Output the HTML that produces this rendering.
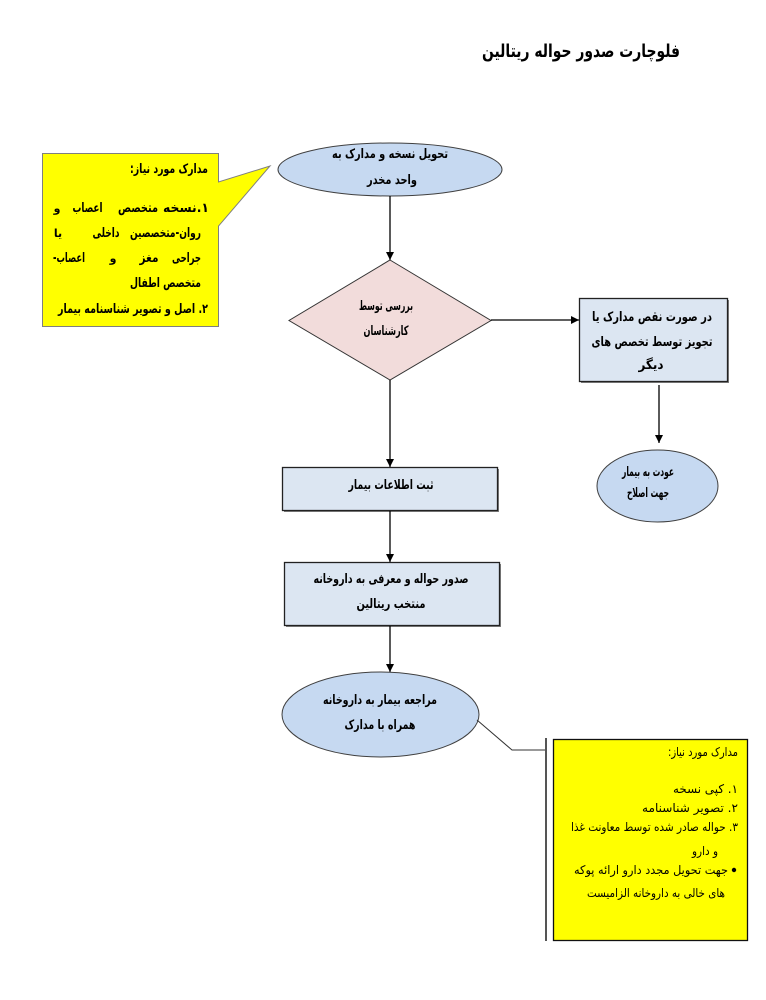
<!DOCTYPE html>
<html>
<head>
<meta charset="utf-8">
<style>
html,body{margin:0;padding:0;background:#fff;}
svg{display:block;}
text{font-family:"DejaVu Sans","Liberation Sans",sans-serif;fill:#000;}
.b{font-weight:bold;font-size:13px;}
.s{font-weight:bold;font-size:11px;}
.r{font-size:12px;}
</style>
</head>
<body>
<svg width="766" height="1000" viewBox="0 0 766 1000" xmlns="http://www.w3.org/2000/svg">
<defs>
<marker id="ah" markerWidth="8" markerHeight="8" refX="8" refY="4" orient="auto" markerUnits="userSpaceOnUse">
<path d="M0,0 L8,4 L0,8 Z" fill="#000"/>
</marker>
</defs>

<!-- Title -->
<text x="581" y="57" text-anchor="middle" direction="rtl" font-weight="bold" font-size="18" textLength="198" lengthAdjust="spacingAndGlyphs">فلوچارت صدور حواله ریتالین</text>

<!-- Left callout -->
<path d="M42.5,153.5 L218.5,153.5 L218.5,182 L270,166 L218.5,226 L218.5,326.5 L42.5,326.5 Z" fill="#ffff00" stroke="#7f7f7f" stroke-width="1"/>
<text class="b" x="169" y="173" text-anchor="middle" direction="rtl" textLength="78" lengthAdjust="spacingAndGlyphs">مدارک مورد نیاز:</text>
<!-- line 1 -->
<text class="b" x="186" y="212" text-anchor="middle" direction="rtl" textLength="46" lengthAdjust="spacingAndGlyphs">۱.نسخه</text>
<text class="b" x="138" y="212" text-anchor="middle" direction="rtl" textLength="40" lengthAdjust="spacingAndGlyphs">متخصص</text>
<text class="b" x="87.5" y="212" text-anchor="middle" direction="rtl" textLength="30" lengthAdjust="spacingAndGlyphs">اعصاب</text>
<text class="s" x="57" y="212" text-anchor="middle" direction="rtl">و</text>
<!-- line 2 -->
<text class="b" x="165.5" y="237" text-anchor="middle" direction="rtl" textLength="71" lengthAdjust="spacingAndGlyphs">روان-متخصصین</text>
<text class="b" x="106" y="237" text-anchor="middle" direction="rtl" textLength="27" lengthAdjust="spacingAndGlyphs">داخلی</text>
<text class="s" x="58" y="237" text-anchor="middle" direction="rtl">یا</text>
<!-- line 3 -->
<text class="b" x="186.5" y="262" text-anchor="middle" direction="rtl" textLength="29" lengthAdjust="spacingAndGlyphs">جراحی</text>
<text class="b" x="149" y="262" text-anchor="middle" direction="rtl" textLength="19" lengthAdjust="spacingAndGlyphs">مغز</text>
<text class="s" x="113" y="262" text-anchor="middle" direction="rtl">و</text>
<text class="b" x="69" y="262" text-anchor="middle" direction="rtl" textLength="32" lengthAdjust="spacingAndGlyphs">اعصاب-</text>
<!-- line 4,5 -->
<text class="b" x="165.5" y="287" text-anchor="middle" direction="rtl" textLength="71" lengthAdjust="spacingAndGlyphs">متخصص اطفال</text>
<text class="b" x="133" y="313" text-anchor="middle" direction="rtl" textLength="150" lengthAdjust="spacingAndGlyphs">۲. اصل و تصویر شناسنامه بیمار</text>

<!-- Ellipse 1 -->
<ellipse cx="390" cy="169.5" rx="112" ry="26.5" fill="#c6d9f1" stroke="#404040" stroke-width="1"/>
<text class="b" x="390" y="158" text-anchor="middle" direction="rtl" textLength="116" lengthAdjust="spacingAndGlyphs">تحویل نسخه و مدارک به</text>
<text class="b" x="392" y="184" text-anchor="middle" direction="rtl" textLength="50" lengthAdjust="spacingAndGlyphs">واحد مخدر</text>

<!-- Arrow 1 -->
<line x1="390" y1="196" x2="390" y2="260" stroke="#000" stroke-width="1.3" marker-end="url(#ah)"/>

<!-- Diamond -->
<path d="M390,260 L491,320.5 L390,380 L289,320.5 Z" fill="#f2dcdb" stroke="#333" stroke-width="1"/>
<text class="b" x="386" y="310" text-anchor="middle" direction="rtl" textLength="54" lengthAdjust="spacingAndGlyphs">بررسی توسط</text>
<text class="b" x="386" y="335" text-anchor="middle" direction="rtl" textLength="45" lengthAdjust="spacingAndGlyphs">کارشناسان</text>

<!-- Arrow 2 to right box -->
<line x1="491" y1="320" x2="579" y2="320" stroke="#000" stroke-width="1.3" marker-end="url(#ah)"/>

<!-- Right box -->
<rect x="581" y="300" width="148" height="83" fill="#7f7f7f"/>
<rect x="579.5" y="298.5" width="148" height="83" fill="#dce6f2" stroke="#222" stroke-width="1.3"/>
<text class="b" x="652" y="321" text-anchor="middle" direction="rtl" textLength="120" lengthAdjust="spacingAndGlyphs">در صورت نقص مدارک یا</text>
<text class="b" x="652" y="346" text-anchor="middle" direction="rtl" textLength="121" lengthAdjust="spacingAndGlyphs">تجویز توسط تخصص های</text>
<text class="b" x="651" y="369" text-anchor="middle" direction="rtl" textLength="25" lengthAdjust="spacingAndGlyphs">دیگر</text>

<!-- Arrow 3 -->
<line x1="659" y1="385" x2="659" y2="443" stroke="#000" stroke-width="1.3" marker-end="url(#ah)"/>

<!-- Ellipse 2 -->
<ellipse cx="657.5" cy="486" rx="60.5" ry="36" fill="#c6d9f1" stroke="#404040" stroke-width="1"/>
<text class="b" x="648" y="476" text-anchor="middle" direction="rtl" textLength="52" lengthAdjust="spacingAndGlyphs">عودت به بیمار</text>
<text class="b" x="648" y="497" text-anchor="middle" direction="rtl" textLength="42" lengthAdjust="spacingAndGlyphs">جهت اصلاح</text>

<!-- Arrow 4 -->
<line x1="390" y1="380" x2="390" y2="467" stroke="#000" stroke-width="1.3" marker-end="url(#ah)"/>

<!-- Box 1 -->
<rect x="284" y="469" width="215" height="43" fill="#7f7f7f"/>
<rect x="282.5" y="467.5" width="215" height="43" fill="#dce6f2" stroke="#222" stroke-width="1.3"/>
<text class="b" x="391" y="489" text-anchor="middle" direction="rtl" textLength="85" lengthAdjust="spacingAndGlyphs">ثبت اطلاعات بیمار</text>

<!-- Arrow 5 -->
<line x1="390" y1="511" x2="390" y2="562" stroke="#000" stroke-width="1.3" marker-end="url(#ah)"/>

<!-- Box 2 -->
<rect x="286" y="564" width="215" height="63" fill="#7f7f7f"/>
<rect x="284.5" y="562.5" width="215" height="63" fill="#dce6f2" stroke="#222" stroke-width="1.3"/>
<text class="b" x="391" y="583" text-anchor="middle" direction="rtl" textLength="155" lengthAdjust="spacingAndGlyphs">صدور حواله  و معرفی به داروخانه</text>
<text class="b" x="391" y="608" text-anchor="middle" direction="rtl" textLength="69" lengthAdjust="spacingAndGlyphs">منتخب ریتالین</text>

<!-- Arrow 6 -->
<line x1="390" y1="626" x2="390" y2="672" stroke="#000" stroke-width="1.3" marker-end="url(#ah)"/>

<!-- Ellipse 3 -->
<ellipse cx="380.5" cy="714.5" rx="98.5" ry="42.5" fill="#c6d9f1" stroke="#404040" stroke-width="1"/>
<text class="b" x="380" y="704" text-anchor="middle" direction="rtl" textLength="114" lengthAdjust="spacingAndGlyphs">مراجعه بیمار به داروخانه</text>
<text class="b" x="380" y="729" text-anchor="middle" direction="rtl" textLength="71" lengthAdjust="spacingAndGlyphs">همراه با مدارک</text>

<!-- Connector to right callout -->
<polyline points="477,720 512,750 546,750" fill="none" stroke="#333" stroke-width="1"/>
<line x1="546" y1="738" x2="546" y2="941" stroke="#555" stroke-width="2"/>

<!-- Right callout box -->
<rect x="553.5" y="739.5" width="194" height="201" fill="#ffff00" stroke="#111" stroke-width="1.3"/>
<text class="r" x="703" y="756" text-anchor="middle" direction="rtl" textLength="70" lengthAdjust="spacingAndGlyphs">مدارک مورد نیاز:</text>
<text class="r" x="705.5" y="793" text-anchor="middle" direction="rtl" textLength="65" lengthAdjust="spacingAndGlyphs">۱.  کپی نسخه</text>
<text class="r" x="690" y="812" text-anchor="middle" direction="rtl" textLength="96" lengthAdjust="spacingAndGlyphs">۲.  تصویر شناسنامه</text>
<text class="r" x="654.5" y="831" text-anchor="middle" direction="rtl" textLength="167" lengthAdjust="spacingAndGlyphs">۳.  حواله صادر شده توسط معاونت غذا</text>
<text class="r" x="705" y="855" text-anchor="middle" direction="rtl" textLength="26" lengthAdjust="spacingAndGlyphs">و دارو</text>
<circle cx="734" cy="870" r="2.2" fill="#000"/>
<text class="r" x="651" y="874" text-anchor="middle" direction="rtl" textLength="154" lengthAdjust="spacingAndGlyphs">جهت تحویل مجدد دارو ارائه  پوکه</text>
<text class="r" x="656" y="897" text-anchor="middle" direction="rtl" textLength="138" lengthAdjust="spacingAndGlyphs">های خالی به داروخانه الزامیست</text>
</svg>
</body>
</html>
